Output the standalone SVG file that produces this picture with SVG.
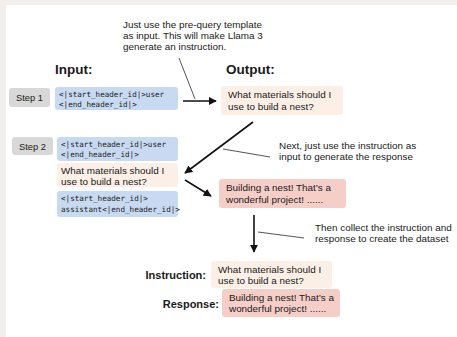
<svg xmlns="http://www.w3.org/2000/svg" width="457" height="337" viewBox="0 0 457 337">
<defs>
<style>
.sans{font-family:"Liberation Sans",Arial,sans-serif;fill:#1a1a1a}
.note{font-size:9.9px}
.box{font-size:9.9px}
.stp{font-size:9.3px}
.head{font-size:13.5px;font-weight:bold}
.lab{font-size:11px;font-weight:bold}
.mono{font-family:"DejaVu Sans Mono",monospace;font-size:7.6px;fill:#222}
.blue{fill:#c8daf1}
.peach{fill:#fcefe6}
.pink{fill:#f5cec7}
.step{fill:#d8d8d8}
.arr{stroke:#111;stroke-width:1.6;fill:none}
.ptr{stroke:#555;stroke-width:1;fill:none}
</style>
<marker id="ah" viewBox="0 0 10 10" refX="9" refY="5" markerWidth="5" markerHeight="5" orient="auto" markerUnits="strokeWidth">
<path d="M0,0 L10,5 L0,10 z" fill="#111"/>
</marker>
</defs>
<rect x="0" y="0" width="457" height="337" fill="#f3efed"/>
<rect x="6" y="5" width="451" height="332" fill="#ffffff"/>

<g id="note1">
<text class="sans note" x="123" y="28">Just use the pre-query template</text>
<text class="sans note" x="123" y="39">as input. This will make Llama 3</text>
<text class="sans note" x="123" y="50">generate an instruction.</text>
</g>
<g id="input-label"><text class="sans head" x="55" y="74">Input:</text></g>
<g id="output-label"><text class="sans head" x="226" y="74">Output:</text></g>

<g id="step1">
<rect class="step" x="9" y="88" width="41" height="19" rx="3"/>
<text class="sans stp" x="29.5" y="101" text-anchor="middle">Step 1</text>
</g>
<g id="step1-input">
<rect class="blue" x="55" y="87" width="123" height="23" rx="3"/>
<text class="mono" x="59" y="97">&lt;|start_header_id|&gt;user</text>
<text class="mono" x="59" y="106.5">&lt;|end_header_id|&gt;</text>
</g>
<g id="step1-output">
<rect class="peach" x="221" y="86" width="122" height="29" rx="3"/>
<text class="sans box" x="228" y="98">What materials should I</text>
<text class="sans box" x="228" y="110">use to build a nest?</text>
</g>

<g id="step2">
<rect class="step" x="12" y="137" width="41" height="18" rx="3"/>
<text class="sans stp" x="32.5" y="149.5" text-anchor="middle">Step 2</text>
</g>
<g id="step2-user">
<rect class="blue" x="57" y="137" width="121" height="24" rx="3"/>
<text class="mono" x="61" y="147">&lt;|start_header_id|&gt;user</text>
<text class="mono" x="61" y="156.5">&lt;|end_header_id|&gt;</text>
</g>
<g id="step2-instruction">
<rect class="peach" x="57" y="163" width="121" height="24" rx="3"/>
<text class="sans box" x="61" y="174">What materials should I</text>
<text class="sans box" x="61" y="184.5">use to build a nest?</text>
</g>
<g id="step2-assistant">
<rect class="blue" x="57" y="191" width="121" height="26" rx="3"/>
<text class="mono" x="61" y="201">&lt;|start_header_id|&gt;</text>
<text class="mono" x="61" y="211.5">assistant&lt;|end_header_id|&gt;</text>
</g>
<g id="step2-response">
<rect class="pink" x="219" y="179" width="127" height="29" rx="3"/>
<text class="sans box" x="226" y="191">Building a nest! That’s a</text>
<text class="sans box" x="226" y="203">wonderful project! ......</text>
</g>

<g id="note2">
<text class="sans note" x="279" y="148.5">Next, just use the instruction as</text>
<text class="sans note" x="279" y="160">input to generate the response</text>
</g>
<g id="note3">
<text class="sans note" x="315" y="230.5">Then collect the instruction and</text>
<text class="sans note" x="315" y="241.5">response to create the dataset</text>
</g>

<g id="instruction">
<text class="sans lab" x="206" y="279" text-anchor="end">Instruction:</text>
<rect class="peach" x="211" y="261" width="121" height="27" rx="3"/>
<text class="sans box" x="218" y="273">What materials should I</text>
<text class="sans box" x="218" y="284">use to build a nest?</text>
</g>
<g id="response">
<text class="sans lab" x="219" y="308" text-anchor="end">Response:</text>
<rect class="pink" x="222" y="289" width="118" height="28" rx="3"/>
<text class="sans box" x="229" y="301">Building a nest! That’s a</text>
<text class="sans box" x="229" y="312">wonderful project! ......</text>
</g>

<g id="connectors">
<line class="arr" x1="183" y1="101" x2="216" y2="101" marker-end="url(#ah)"/>
<line class="ptr" x1="179" y1="58" x2="195" y2="99"/>
<line class="arr" x1="253" y1="122" x2="185" y2="173" marker-end="url(#ah)"/>
<line class="arr" x1="185" y1="180" x2="211" y2="196" marker-end="url(#ah)"/>
<line class="ptr" x1="223" y1="149" x2="270" y2="157"/>
<line class="arr" x1="254" y1="215" x2="254" y2="252" marker-end="url(#ah)"/>
<line class="ptr" x1="258" y1="232" x2="304" y2="238"/>
</g>
</svg>
